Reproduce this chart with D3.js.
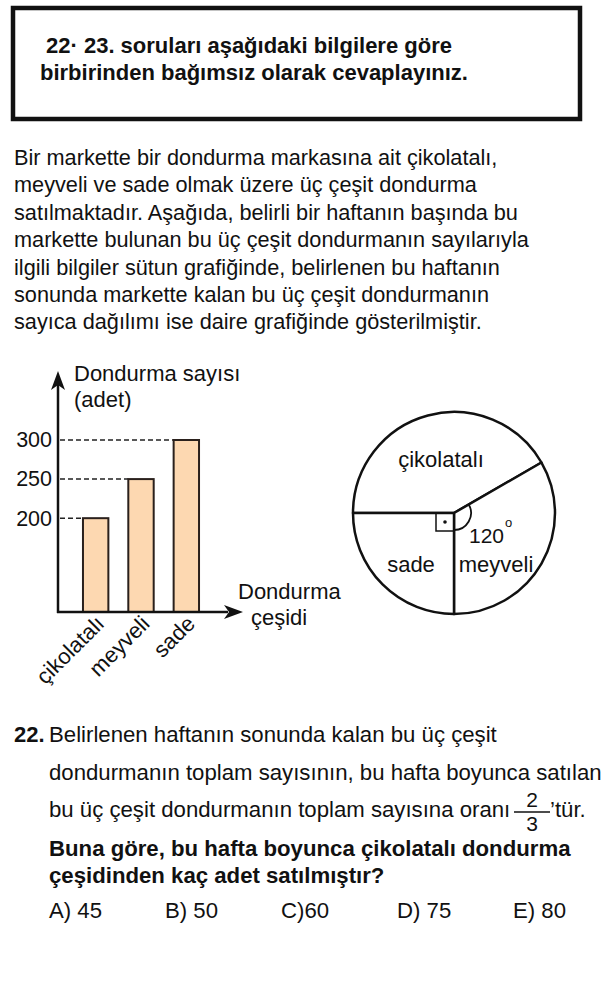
<!DOCTYPE html>
<html>
<head>
<meta charset="utf-8">
<script src="https://cdn.jsdelivr.net/npm/d3@7"></script>
<style>
  html, body { margin: 0; padding: 0; background: #fff; }
  svg { display: block; }
  text { font-family: "Liberation Sans", Arial, Helvetica, sans-serif; fill: #111; }
</style>
</head>
<body>
<svg id="page" width="611" height="983"></svg>
<script>
// ---- data ----
const categories = ["çikolatalı", "meyveli", "sade"];
const startCounts = [200, 250, 300];
const yTickValues = [200, 250, 300];
const pieLabels = ["çikolatalı", "meyveli", "sade"];
const pieDegrees = [150, 120, 90];
const boxLines = ["22· 23. soruları aşağıdaki bilgilere göre", "birbirinden bağımsız olarak cevaplayınız."];
const introLines = [
  "Bir markette bir dondurma markasına ait çikolatalı,",
  "meyveli ve sade olmak üzere üç çeşit dondurma",
  "satılmaktadır. Aşağıda, belirli bir haftanın başında bu",
  "markette bulunan bu üç çeşit dondurmanın sayılarıyla",
  "ilgili bilgiler sütun grafiğinde, belirlenen bu haftanın",
  "sonunda markette kalan bu üç çeşit dondurmanın",
  "sayıca dağılımı ise daire grafiğinde gösterilmiştir."
];
const questionLines = [
  "Belirlenen haftanın sonunda kalan bu üç çeşit",
  "dondurmanın toplam sayısının, bu hafta boyunca satılan",
  "bu üç çeşit dondurmanın toplam sayısına oranı"
];
const boldLines = ["Buna göre, bu hafta boyunca çikolatalı dondurma", "çeşidinden kaç adet satılmıştır?"];
const answerOptions = ["A) 45", "B) 50", "C)60", "D) 75", "E) 80"];

const svg = d3.select("#page");

// ---- header box ----
svg.append("rect").attr("x", 13).attr("y", 8).attr("width", 567).attr("height", 111)
  .attr("fill", "none").attr("stroke", "#111").attr("stroke-width", 4.5);
svg.selectAll("text.box").data(boxLines).join("text").attr("class", "box")
  .attr("x", (d, i) => i === 0 ? 46 : 40).attr("y", (d, i) => 53 + i * 27)
  .attr("font-size", 22).attr("font-weight", "bold").text(d => d);

// ---- intro paragraph ----
svg.selectAll("text.intro").data(introLines).join("text").attr("class", "intro")
  .attr("x", 14).attr("y", (d, i) => 165 + i * 27.4)
  .attr("font-size", 21.7).text(d => d);

// ---- bar chart ----
const x0 = 58, yBase = 612;
const y = d3.scaleLinear().domain([80, 300]).range([yBase, 440]);
const x = d3.scaleBand().domain(categories).range([73, 209]).paddingInner(0.44).paddingOuter(0.22);
const bar = svg.append("g");

// dashed guide lines
bar.selectAll("line.guide").data(categories).join("line").attr("class", "guide")
  .attr("x1", x0 + 2).attr("x2", d => x(d))
  .attr("y1", (d, i) => y(startCounts[i])).attr("y2", (d, i) => y(startCounts[i]))
  .attr("stroke", "#222").attr("stroke-width", 1.5).attr("stroke-dasharray", "5,3");

// bars
bar.selectAll("rect.bar").data(categories).join("rect").attr("class", "bar")
  .attr("x", d => x(d)).attr("width", x.bandwidth())
  .attr("y", (d, i) => y(startCounts[i])).attr("height", (d, i) => yBase - y(startCounts[i]))
  .attr("fill", "#FDD8B1").attr("stroke", "#2a201c").attr("stroke-width", 2);

// y tick labels via axis
const yAxis = bar.append("g").attr("transform", `translate(${x0},0)`)
  .call(d3.axisLeft(y).tickValues(yTickValues).tickSize(0).tickPadding(6));
yAxis.select(".domain").remove();
yAxis.selectAll("text").attr("font-size", 21.5)
  .attr("font-family", '"Liberation Sans", Arial, sans-serif').attr("fill", "#111");

// axes lines
bar.append("line").attr("x1", x0).attr("x2", x0).attr("y1", yBase + 1).attr("y2", 385)
  .attr("stroke", "#111").attr("stroke-width", 2.5);
bar.append("line").attr("x1", x0 - 1).attr("x2", 228).attr("y1", yBase).attr("y2", yBase)
  .attr("stroke", "#111").attr("stroke-width", 2.5);
// arrow heads
bar.append("path").attr("d", `M${x0},371 L${x0 - 7},390 L${x0},385 L${x0 + 7},390 Z`).attr("fill", "#111");
bar.append("path").attr("d", `M243,${yBase} L224,${yBase - 7} L229,${yBase} L224,${yBase + 7} Z`).attr("fill", "#111");

// axis titles
bar.append("text").attr("x", 74).attr("y", 381).attr("font-size", 22).text("Dondurma sayısı");
bar.append("text").attr("x", 74).attr("y", 407).attr("font-size", 22).text("(adet)");
bar.append("text").attr("x", 238).attr("y", 599).attr("font-size", 22).text("Dondurma");
bar.append("text").attr("x", 251).attr("y", 625).attr("font-size", 22).text("çeşidi");

// rotated category labels
bar.selectAll("text.cat").data(categories).join("text").attr("class", "cat")
  .attr("text-anchor", "end").attr("font-size", 22)
  .attr("transform", d => `translate(${x(d) + x.bandwidth() / 2 + 10},625) rotate(-45)`)
  .text(d => d);

// ---- pie chart ----
const cx = 454, cy = 513, r = 101;
const pie = d3.pie().sort(null).value(d => d).startAngle(-Math.PI / 2).endAngle(1.5 * Math.PI);
const arcs = pie(pieDegrees);
const arc = d3.arc().innerRadius(0).outerRadius(r);
const pg = svg.append("g").attr("transform", `translate(${cx},${cy})`);
pg.selectAll("path.slice").data(arcs).join("path").attr("class", "slice")
  .attr("d", arc).attr("fill", "#fff").attr("stroke", "#111").attr("stroke-width", 2.5)
  .attr("stroke-linejoin", "round");

// right-angle marker in sade slice
pg.append("rect").attr("x", -18).attr("y", 0).attr("width", 18).attr("height", 18)
  .attr("fill", "none").attr("stroke", "#111").attr("stroke-width", 1.5);
pg.append("circle").attr("cx", -9).attr("cy", 9).attr("r", 1.8).attr("fill", "#111");
// 120 degree arc for meyveli
const meyveli = arcs[1];
pg.append("path").attr("d", d3.arc().innerRadius(17).outerRadius(17)
  .startAngle(meyveli.startAngle).endAngle(meyveli.endAngle)())
  .attr("fill", "none").attr("stroke", "#111").attr("stroke-width", 1.8);

pg.append("text").attr("x", 15).attr("y", 30).attr("font-size", 21).text(pieDegrees[1]);
pg.append("text").attr("x", 51).attr("y", 14).attr("font-size", 13).text("o");

// slice labels
const labelPos = [[-13, -46], [42, 59], [-43, 59]];
pg.selectAll("text.plab").data(pieLabels).join("text").attr("class", "plab")
  .attr("text-anchor", "middle").attr("font-size", 22)
  .attr("x", (d, i) => labelPos[i][0]).attr("y", (d, i) => labelPos[i][1]).text(d => d);

// ---- question ----
svg.append("text").attr("x", 14).attr("y", 742).attr("font-size", 22).attr("font-weight", "bold").text("22.");
svg.selectAll("text.q").data(questionLines).join("text").attr("class", "q")
  .attr("x", 49).attr("y", (d, i) => 742 + i * 37.5).attr("font-size", 22.2).text(d => d);
// fraction 2/3
svg.append("text").attr("x", 532).attr("y", 807).attr("font-size", 21).attr("text-anchor", "middle").text("2");
svg.append("line").attr("x1", 514).attr("x2", 550).attr("y1", 812).attr("y2", 812).attr("stroke", "#111").attr("stroke-width", 1.6);
svg.append("text").attr("x", 532).attr("y", 831).attr("font-size", 21).attr("text-anchor", "middle").text("3");
svg.append("text").attr("x", 550).attr("y", 817).attr("font-size", 22.2).text("’tür.");

svg.selectAll("text.b").data(boldLines).join("text").attr("class", "b")
  .attr("x", 49).attr("y", (d, i) => 856 + i * 27).attr("font-size", 22.2).attr("font-weight", "bold").text(d => d);

const optX = d3.scalePoint().domain(answerOptions).range([49, 513]);
svg.selectAll("text.opt").data(answerOptions).join("text").attr("class", "opt")
  .attr("x", d => optX(d)).attr("y", 918).attr("font-size", 22.2).text(d => d);
</script>
</body>
</html>
